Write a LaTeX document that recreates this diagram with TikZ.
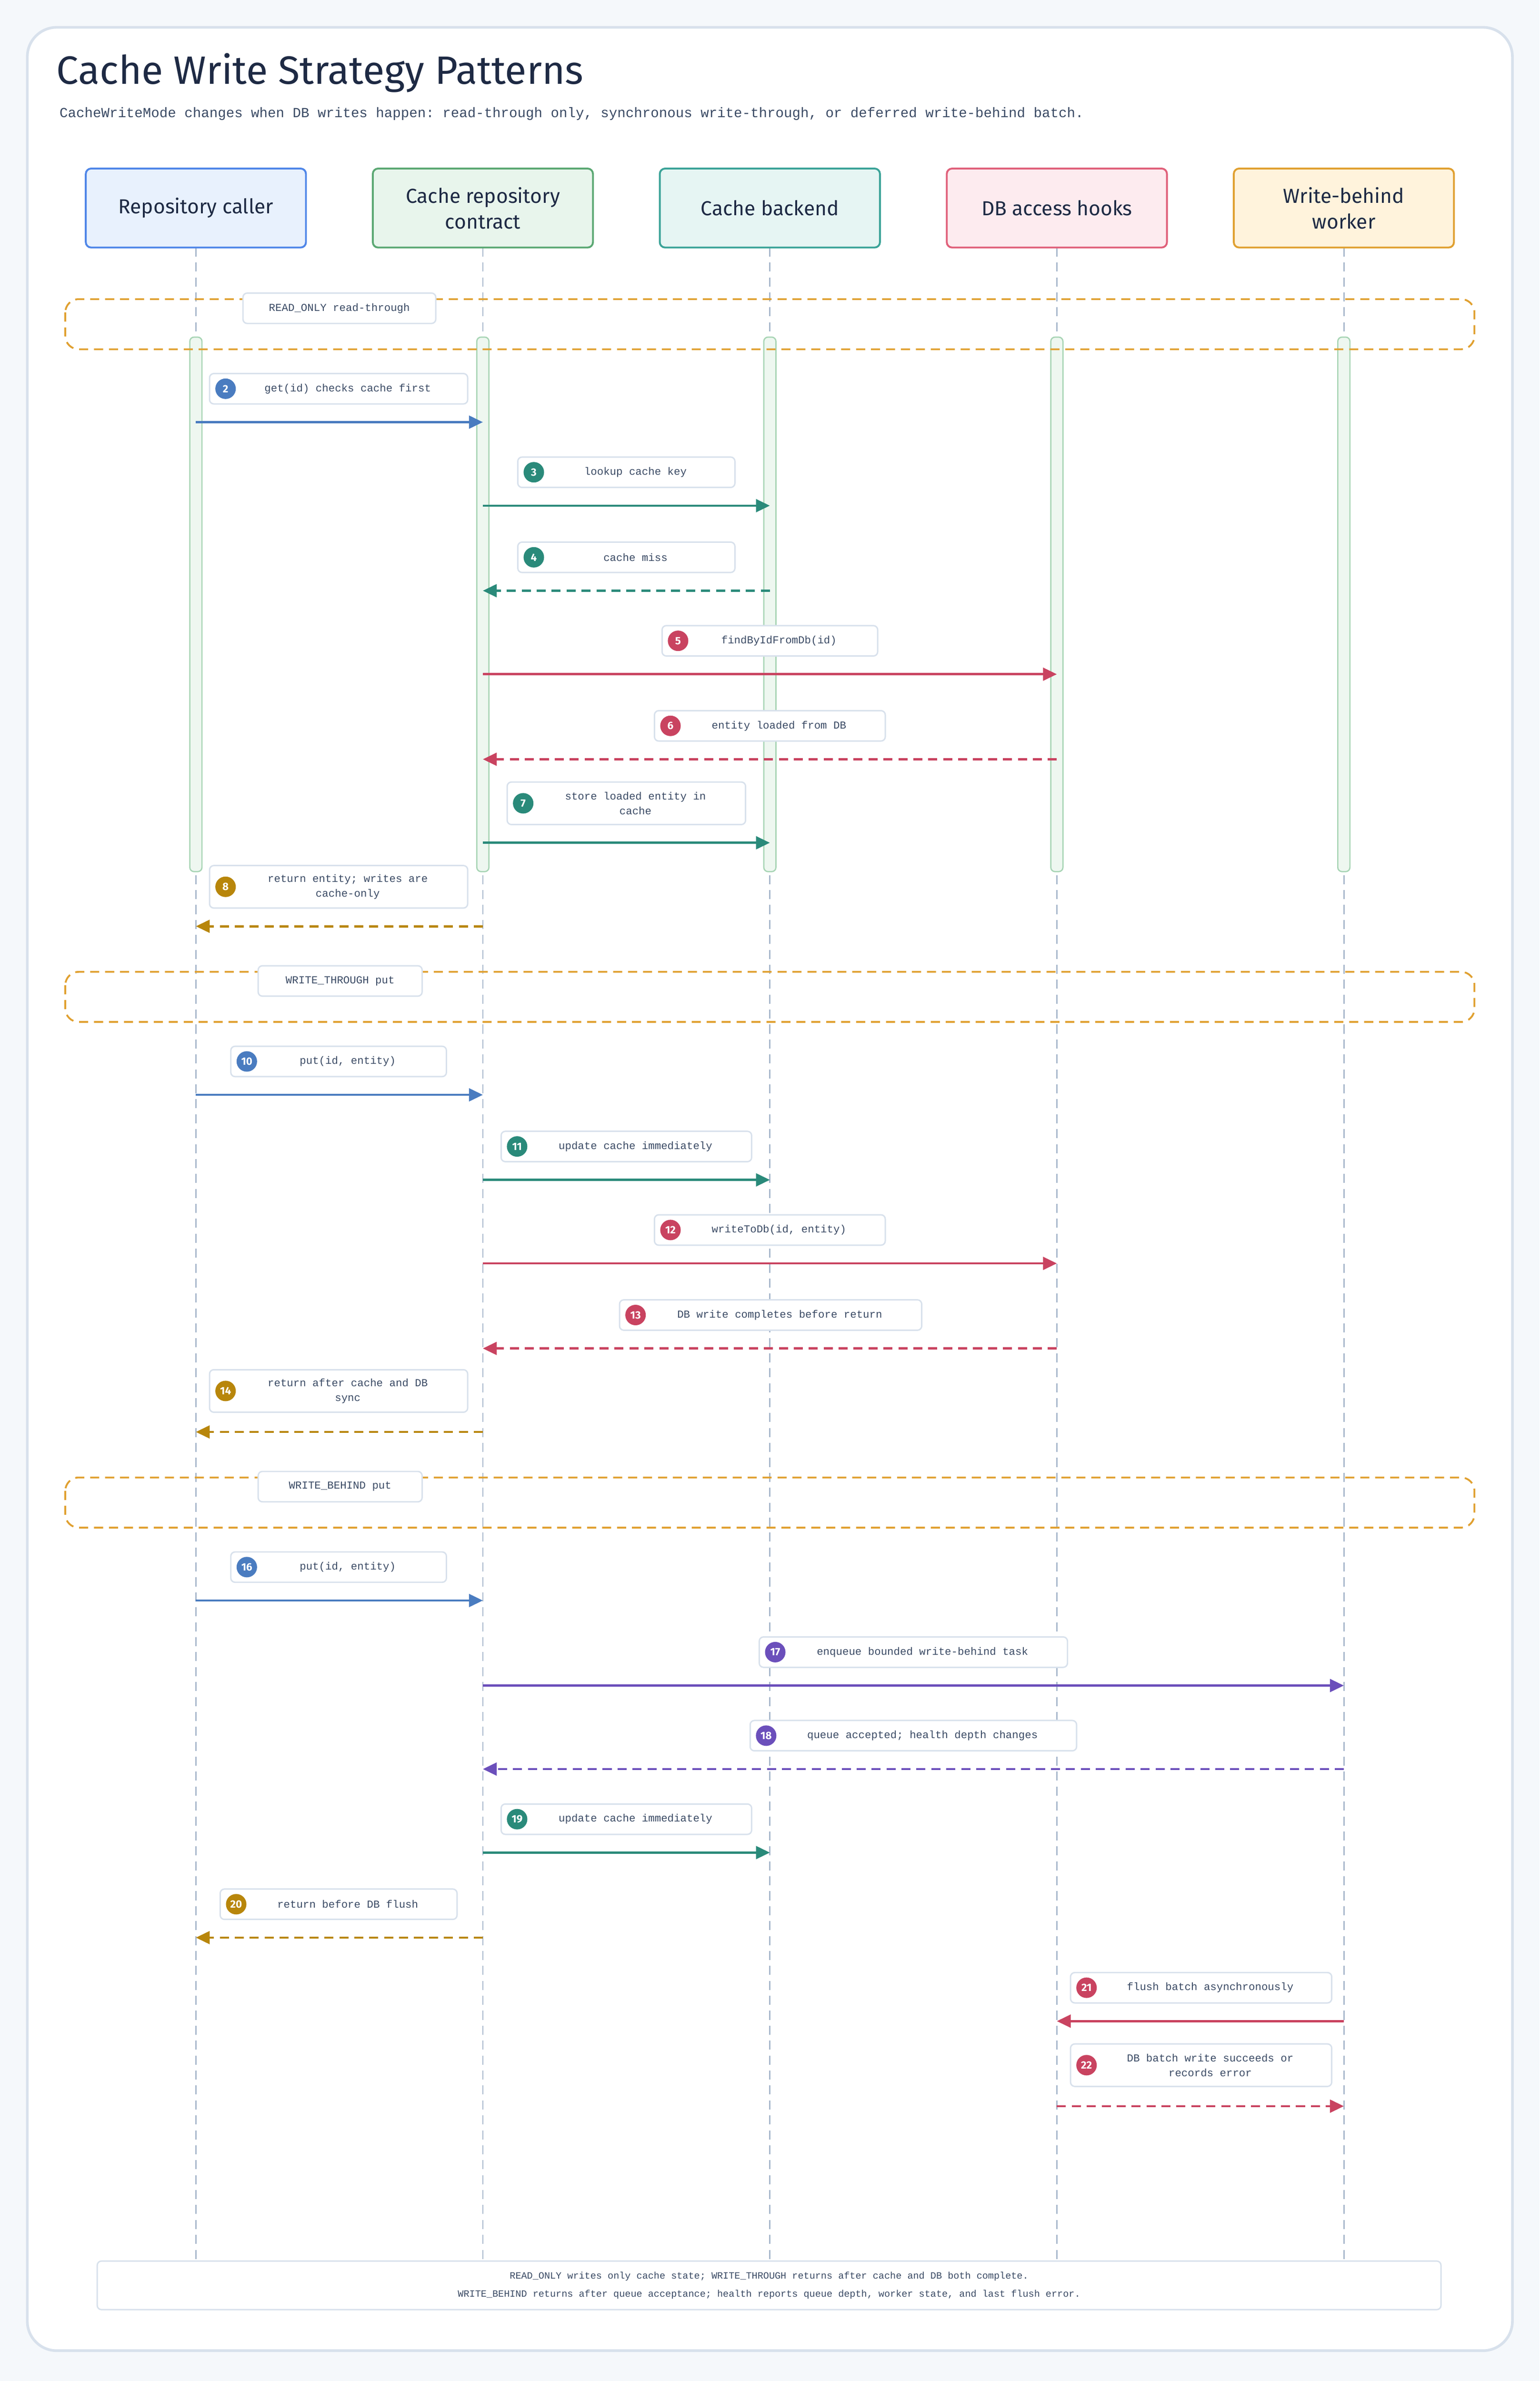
\documentclass[tikz,border=0pt]{standalone}
\usepackage{fontspec}
\setsansfont{Fira Sans}
\setmonofont{Liberation Mono}
\usetikzlibrary{arrows.meta,calc}

\definecolor{pagebg}{HTML}{F5F8FB}
\definecolor{cardline}{HTML}{D8E1EC}
\definecolor{ink}{HTML}{1E2A44}
\definecolor{subink}{HTML}{3A4A64}
\definecolor{lifegray}{HTML}{A8B8CC}
\definecolor{cblue}{HTML}{4A7CC0}
\definecolor{cteal}{HTML}{2A8A7A}
\definecolor{cred}{HTML}{C94360}
\definecolor{cgold}{HTML}{B8860B}
\definecolor{cpurple}{HTML}{6B4FBB}
\definecolor{grp}{HTML}{E0A030}
\definecolor{actfill}{HTML}{EEF7F0}
\definecolor{actline}{HTML}{A8D5B5}

\tikzset{
  head/.style={rounded corners=10pt, line width=3.5pt, minimum width=14.5cm,
    minimum height=5.2cm, align=center, text=ink,
    font=\sffamily\fontsize{38}{48}\selectfont},
  lifeline/.style={lifegray, line width=2.6pt, dash pattern=on 17pt off 11pt},
  actbar/.style={fill=actfill, draw=actline, line width=2.4pt, rounded corners=8pt},
  group/.style={grp, line width=3.4pt, dash pattern=on 17pt off 11pt, rounded corners=25pt},
  lblbox/.style={draw=cardline, fill=white, line width=2.6pt, rounded corners=8pt},
  lbl/.style={text=subink, align=center, font=\ttfamily\fontsize{20}{28}\selectfont},
  num/.style={circle, minimum size=1.35cm, inner sep=0pt, text=white,
    font=\sffamily\bfseries\fontsize{20}{20}\selectfont},
  msg/.style={line width=4.2pt, -{Triangle[length=26pt,width=24pt]}},
  fwd/.style={},
  ret/.style={dash pattern=on 17pt off 11pt},
}

\begin{document}
\begin{tikzpicture}[x=0.1cm,y=-0.1cm]
\useasboundingbox[fill=pagebg] (0,0) rectangle (1014,1568);

% card
\draw[cardline, line width=5pt, fill=white, rounded corners=55pt] (18,18) rectangle (996,1548);

\node[anchor=west, text=ink, font=\sffamily\fontsize{74}{80}\selectfont] (title) at (36,48) {Cache Write Strategy Patterns};
\node[anchor=west, text=subink, font=\ttfamily\fontsize{26}{30}\selectfont] (subtitle) at (38,75)
  {CacheWriteMode changes when DB writes happen: read-through only, synchronous write-through, or deferred write-behind batch.};

% participants
\foreach \i/\nm/\fc/\dc/\txt in {
  1/caller/E8F1FD/4F86E8/{Repository caller},
  2/repo/E8F5EC/5BA873/{Cache repository\\contract},
  3/backend/E6F5F3/3BA398/{Cache backend},
  4/hooks/FDEBEF/E0607A/{DB access hooks},
  5/worker/FFF3DC/E0A030/{Write-behind\\worker}}
{
  \definecolor{hf\i}{HTML}{\fc}
  \definecolor{hd\i}{HTML}{\dc}
  \coordinate (ll\i) at (\i*189-60,163);
  \coordinate (le\i) at (\i*189-60,1490);
  \draw[lifeline] (ll\i) -- (le\i);
  \node[head, fill=hf\i, draw=hd\i] (\nm) at (\i*189-60,137) {\txt};
  \draw[actbar] (\i*189-64,222) rectangle (\i*189-56,574);
}

% groups
\foreach \y/\bl/\br/\txt in {197/160/287/{READ\_ONLY read-through},
  640/170/278/{WRITE\_THROUGH put}, 973/170/278/{WRITE\_BEHIND put}}
{
  \draw[group] (43,\y) rectangle (971,\y+33);
  \pgfmathsetmacro\w{(\br-\bl)/10}
  \node[lblbox, minimum width=\w cm, minimum height=2cm] (g\y) at ({(\bl+\br)/2},\y+6) {};
  \node[lbl] at (g\y) {\txt};
}

% messages
\foreach \n/\f/\t/\y/\bl/\br/\ly/\hh/\c/\s/\txt in {
  2/1/2/278/138/308/256/2.0/cblue/fwd/{get(id) checks cache first},
  3/2/3/333/341/484/311/2.0/cteal/fwd/{lookup cache key},
  4/3/2/389/341/484/367/2.0/cteal/ret/{cache miss},
  5/2/4/444/436/578/422/2.0/cred/fwd/{findByIdFromDb(id)},
  6/4/2/500/431/583/478/2.0/cred/ret/{entity loaded from DB},
  7/2/3/555/334/491/529/2.8/cteal/fwd/{store loaded entity in\\cache},
  8/2/1/610/138/308/584/2.8/cgold/ret/{return entity; writes are\\cache-only},
  10/1/2/721/152/294/699/2.0/cblue/fwd/{put(id, entity)},
  11/2/3/777/330/495/755/2.0/cteal/fwd/{update cache immediately},
  12/2/4/832/431/583/810/2.0/cred/fwd/{writeToDb(id, entity)},
  13/4/2/888/408/607/866/2.0/cred/ret/{DB write completes before return},
  14/2/1/943/138/308/916/2.8/cgold/ret/{return after cache and DB\\sync},
  16/1/2/1054/152/294/1032/2.0/cblue/fwd/{put(id, entity)},
  17/2/5/1110/500/703/1088/2.0/cpurple/fwd/{enqueue bounded write-behind task},
  18/5/2/1165/494/709/1143/2.0/cpurple/ret/{queue accepted; health depth changes},
  19/2/3/1220/330/495/1198/2.0/cteal/fwd/{update cache immediately},
  20/2/1/1276/145/301/1254/2.0/cgold/ret/{return before DB flush},
  21/5/4/1331/705/877/1309/2.0/cred/fwd/{flush batch asynchronously},
  22/4/5/1387/705/877/1360/2.8/cred/ret/{DB batch write succeeds or\\records error}}
{
  \coordinate (a\n) at (ll\f |- 0,\y);
  \coordinate (b\n) at (ll\t |- 0,\y);
  \draw[msg, \c, \s] (a\n) -- (b\n);
  \pgfmathsetmacro\w{(\br-\bl)/10}
  \node[lblbox, minimum width=\w cm, minimum height=\hh cm] (box\n) at ({(\bl+\br)/2},\ly) {};
  \node[num, fill=\c] (n\n) at ([xshift=1.1cm]box\n.west) {\n};
  \node[lbl] (t\n) at ([xshift=0.6cm]box\n.center) {\txt};
}

% footer
\node[lblbox, minimum width=88.5cm, minimum height=3.2cm] (note) at (506.5,1505) {};
\node[lbl, font=\ttfamily\fontsize{18}{34}\selectfont] at (note)
  {READ\_ONLY writes only cache state; WRITE\_THROUGH returns after cache and DB both complete.\\
   WRITE\_BEHIND returns after queue acceptance; health reports queue depth, worker state, and last flush error.};
\end{tikzpicture}
\end{document}
